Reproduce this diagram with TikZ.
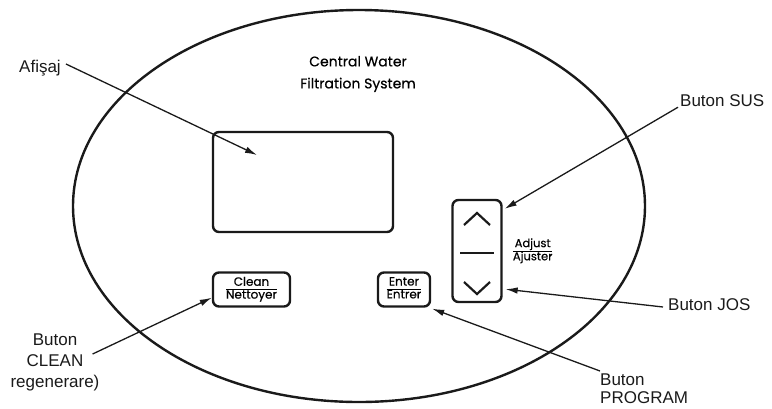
\documentclass[tikz,border=0pt]{standalone}
\usepackage{fontspec}
\setmainfont{Liberation Sans}
\newfontfamily\gothicfont{Poppins}[FakeBold=0.5]
\usetikzlibrary{arrows.meta,positioning,calc}
\definecolor{PanelInk}{HTML}{1A1A1A}
\colorlet{LabelInk}{PanelInk}
\newcommand{\twoword}[2]{{\setlength{\arrayrulewidth}{1pt}\renewcommand{\arraystretch}{0.8}%
  \begin{tabular}{@{}c@{}}#1\\\hline #2\end{tabular}}}

\begin{document}
\begin{tikzpicture}[x=1pt,y=-1pt,
  keybox/.style={draw=PanelInk, line width=2.4pt, rounded corners=6pt, inner sep=0pt,
    font=\gothicfont\fontsize{12}{14.5}\selectfont, align=center},
  callout/.style={font=\fontsize{17}{21}\selectfont, text=LabelInk, inner sep=1pt},
  pointer/.style={-{Latex[length=12pt,width=6.5pt]}, line width=1.3pt, draw=PanelInk},
  chevron/.style={draw=PanelInk, line width=2.2pt}]
  \useasboundingbox (0,0) rectangle (772,408);
  \draw[PanelInk, line width=2.4pt] (359,206) ellipse [x radius=286, y radius=196];
  \node[font=\gothicfont\fontsize{14}{22}\selectfont, align=center] (title) at (358,74)
    {Central Water\\Filtration System};

  \node[keybox, minimum width=180pt, minimum height=100pt] (display) at (303,182) {};
  \node[keybox, minimum width=77pt, minimum height=34pt] (clean) at (251.5,289.5)
    {\twoword{Clean}{Nettoyer}};
  \node[keybox, minimum width=52pt, minimum height=34pt] (enter) at (404,289.5)
    {\twoword{Enter}{Entrer}};
  \node[keybox, minimum width=49pt, minimum height=102pt] (panel) at (477,251) {};
  \draw[chevron] ($(panel.center)+(-13,-26)$) -- ($(panel.center)+(0,-38)$) -- ($(panel.center)+(13,-26)$);
  \draw[chevron] ($(panel.center)+(-13,31)$) -- ($(panel.center)+(0,43)$) -- ($(panel.center)+(13,31)$);
  \draw[PanelInk, line width=2.6pt] ($(panel.center)+(-17,2)$) -- ($(panel.center)+(17,2)$);
  \node[font=\gothicfont\fontsize{11.5}{14}\selectfont, inner sep=0pt, right=10pt of panel] (adjust)
    {\twoword{Adjust}{Ajuster}};

  \node[callout, anchor=west] (lblDisplay) at (18,68) {Afişaj};
  \node[callout, anchor=west] (lblUp) at (679,101) {Buton SUS};
  \node[callout, anchor=west] (lblDown) at (667,305) {Buton JOS};
  \node[callout, align=left, anchor=north west, font=\fontsize{17}{18}\selectfont] (lblProg) at (599,373) {Buton\\PROGRAM};
  \node[callout, align=center] (lblClean) at (55,362) {Buton\\CLEAN\\regenerare)};

  \coordinate (dispTip) at (257,155);
  \draw[pointer] ([xshift=4pt,yshift=4pt]lblDisplay.east) -- (dispTip);
  \draw[pointer] ([xshift=-1pt,yshift=1pt]lblUp.south west) -- ($(panel.north east)+(2,10)$);
  \draw[pointer] ([xshift=-4pt,yshift=-2pt]lblDown.west) -- ($(panel.south east)+(3,-14)$);
  \draw[pointer] ([xshift=1pt,yshift=2pt]lblProg.north west) -- ($(enter.south east)+(1,1)$);
  \draw[pointer] ($(lblClean.east)+(-8,-8)$) -- ($(clean.south west)+(0,-10)$);
\end{tikzpicture}
\end{document}
